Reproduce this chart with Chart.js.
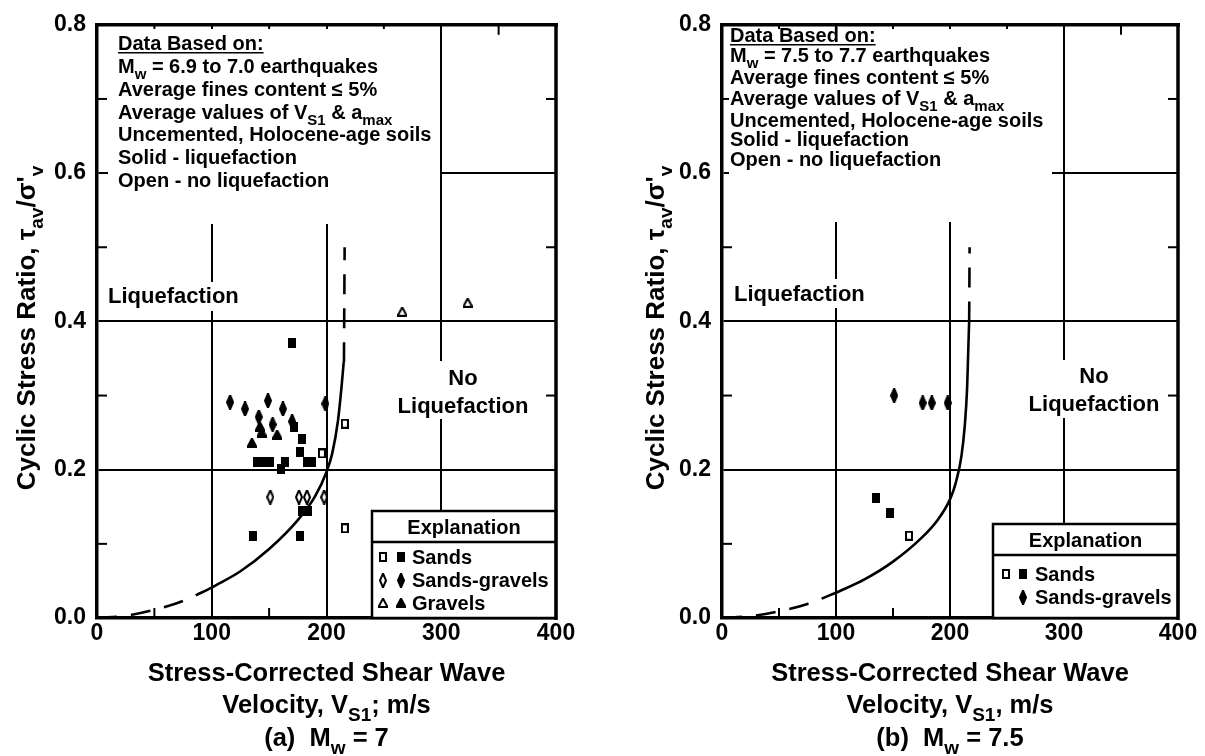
<!DOCTYPE html>
<html><head><meta charset="utf-8">
<script src="https://cdn.jsdelivr.net/npm/chart.js@4.4.0/dist/chart.umd.min.js"></script>
<style>
html,body{margin:0;padding:0;background:#fff;}
#wrap{position:relative;width:1205px;height:756px;overflow:hidden;background:#fff;}
canvas{position:absolute;top:0;}
#ca{left:0;} #cb{left:602px;}
</style></head><body>
<div id="wrap"><canvas id="ca" width="602" height="756"></canvas><canvas id="cb" width="603" height="756"></canvas></div>
<script>
// ---------- tick labels ----------
const xTickValues = [0, 100, 200, 300, 400];
const yTickValues = [0.0, 0.2, 0.4, 0.6, 0.8];
const xMinorTicks = [50, 150, 250, 350];
const yMinorTicks = [0.1, 0.3, 0.5, 0.7];

// ---------- panel (a) Mw = 7 ----------
const aSandsLiqX = [170, 179, 176.5, 139, 146, 151, 160, 164, 183, 187, 179, 184, 136, 177, 172];
const aSandsLiqY = [0.371, 0.242, 0.224, 0.211, 0.210, 0.210, 0.201, 0.210, 0.210, 0.210, 0.144, 0.144, 0.111, 0.111, 0.258];
const aSandsNoLiqX = [196, 216, 216];
const aSandsNoLiqY = [0.222, 0.262, 0.121];
const aSGLiqX = [116, 129, 149, 162, 199, 141, 153, 170];
const aSGLiqY = [0.291, 0.282, 0.293, 0.282, 0.289, 0.271, 0.261, 0.265];
const aSGNoLiqX = [151, 176, 183, 198];
const aSGNoLiqY = [0.163, 0.163, 0.163, 0.163];
const aGravLiqX = [142, 143.5, 135, 157];
const aGravLiqY = [0.258, 0.250, 0.236, 0.247];
const aGravNoLiqX = [266, 323];
const aGravNoLiqY = [0.413, 0.425];
const aCurveLowX = [0, 25, 50, 75, 100];
const aCurveLowY = [0, 0.003, 0.011, 0.023, 0.041];
const aCurveX = [100, 125, 150, 175, 190, 200, 205, 210, 213, 215];
const aCurveY = [0.041, 0.063, 0.093, 0.132, 0.164, 0.197, 0.222, 0.266, 0.310, 0.345];
const aCurveTopX = [215.2, 215.8];
const aCurveTopY = [0.345, 0.500];

// ---------- panel (b) Mw = 7.5 ----------
const bSandsLiqX = [135, 147];
const bSandsLiqY = [0.162, 0.141];
const bSandsNoLiqX = [164];
const bSandsNoLiqY = [0.111];
const bSGLiqX = [151, 176, 184, 198];
const bSGLiqY = [0.300, 0.290, 0.290, 0.290];
const bCurveLowX = [0, 25, 50, 75, 100];
const bCurveLowY = [0, 0.0025, 0.009, 0.019, 0.034];
const bCurveX = [100, 125, 150, 175, 190, 200, 205, 210, 213, 215, 216, 216.8];
const bCurveY = [0.034, 0.052, 0.076, 0.108, 0.134, 0.160, 0.182, 0.218, 0.260, 0.310, 0.360, 0.400];
const bCurveTopX = [216.8, 217.2];
const bCurveTopY = [0.400, 0.500];

// ---------- texts ----------
const aBoxLines = [
  [["Data Based on:"]],
  [["M"],["w",1],[" = 6.9 to 7.0 earthquakes"]],
  [["Average fines content \u2264 5%"]],
  [["Average values of V"],["S1",1],[" & a"],["max",1]],
  [["Uncemented, Holocene-age soils"]],
  [["Solid - liquefaction"]],
  [["Open - no liquefaction"]]
];
const bBoxLines = [
  [["Data Based on:"]],
  [["M"],["w",1],[" = 7.5 to 7.7 earthquakes"]],
  [["Average fines content \u2264 5%"]],
  [["Average values of V"],["S1",1],[" & a"],["max",1]],
  [["Uncemented, Holocene-age soils"]],
  [["Solid - liquefaction"]],
  [["Open - no liquefaction"]]
];
const aXTitle = [[["Stress-Corrected Shear Wave"]], [["Velocity, V"],["S1",1],["; m/s"]], [["(a)  M"],["w",1],[" = 7"]]];
const bXTitle = [[["Stress-Corrected Shear Wave"]], [["Velocity, V"],["S1",1],[", m/s"]], [["(b)  M"],["w",1],[" = 7.5"]]];
const yTitle = [["Cyclic Stress Ratio, \u03C4"],["av",1],["/\u03C3'"],["v",1]];
const aLegend = [["square","Sands"],["diamond","Sands-gravels"],["triangle","Gravels"]];
const bLegend = [["square","Sands"],["diamondOnly","Sands-gravels"]];

const FONT = '"Liberation Sans", Arial, Helvetica, sans-serif';

function zip(xs, ys){ return xs.map((x,i)=>({x:x, y:ys[i]})); }

const markerDims = {square:[8,10], diamond:[8,15], triangle:[10,10]};
function markerCanvas(shape, filled){
  const d = markerDims[shape], w = d[0], h = d[1];
  const c = document.createElement('canvas'); c.width = w; c.height = h;
  const g = c.getContext('2d');
  g.fillStyle = '#000'; g.strokeStyle = '#000'; g.lineWidth = 2; g.lineJoin='miter';
  g.beginPath();
  if (shape === 'square') g.rect(1, 1, w-2, h-2);
  else if (shape === 'diamond') { g.moveTo(w/2, 0.5); g.lineTo(w-1, h/2); g.lineTo(w/2, h-0.5); g.lineTo(1, h/2); g.closePath(); }
  else { g.moveTo(w/2, 0.5); g.lineTo(w-0.5, h-1); g.lineTo(0.5, h-1); g.closePath(); }
  if (filled) g.fill();
  g.stroke();
  return c;
}
const MK = {};
['square','diamond','triangle'].forEach(s=>{ MK[s+'1']=markerCanvas(s,true); MK[s+'0']=markerCanvas(s,false); });

function drawRich(g, segs, x, yc, size, align){
  const sub = Math.round(size*0.74);
  let w = 0;
  segs.forEach(s=>{ g.font = 'bold '+(s[1]?sub:size)+'px '+FONT; w += g.measureText(s[0]).width; });
  let cx = align==='center' ? x - w/2 : (align==='right' ? x - w : x);
  const base = yc + size*0.36;
  g.textAlign = 'left'; g.textBaseline = 'alphabetic'; g.fillStyle = '#000';
  segs.forEach(s=>{
    g.font = 'bold '+(s[1]?sub:size)+'px '+FONT;
    g.fillText(s[0], cx, base + (s[1]? size*0.30 : 0));
    cx += g.measureText(s[0]).width;
  });
  return {x0: align==='center' ? x - w/2 : x, w: w, base: base};
}

function line(g, x1, y1, x2, y2, w){ g.beginPath(); g.lineWidth = w; g.strokeStyle='#000'; g.moveTo(x1,y1); g.lineTo(x2,y2); g.stroke(); }

function decoPlugin(P){
  return {
    id: 'deco',
    beforeDatasetsDraw(chart){
      const g = chart.ctx, A = chart.chartArea, xs = chart.scales.x, ys = chart.scales.y;
      g.save();
      xMinorTicks.forEach(v=>{ const p = xs.getPixelForValue(v); line(g,p,A.top,p,A.top+10,2); line(g,p,A.bottom,p,A.bottom-10,2); });
      yMinorTicks.forEach(v=>{ const p = ys.getPixelForValue(v); line(g,A.left,p,A.left+10,p,2); line(g,A.right,p,A.right-10,p,2); });
      g.fillStyle = '#fff';
      const bx = P.box; g.fillRect(bx[0], bx[1], bx[2]-bx[0], bx[3]-bx[1]);
      const lq = P.liqBg; g.fillRect(lq[0], lq[1], lq[2]-lq[0], lq[3]-lq[1]);
      const nl = P.noLiqBg; g.fillRect(nl[0], nl[1], nl[2]-nl[0], nl[3]-nl[1]);
      const ex = P.expl; g.fillRect(ex[0], ex[1], A.right-ex[0], A.bottom-ex[1]);
      line(g, A.left-2, A.top, A.right+2, A.top, 3.5);
      line(g, A.right, A.top, A.right, A.bottom+2, 3.5);
      P.boxLines.forEach((segs,i)=>{
        const r = drawRich(g, segs, P.boxTextX, P.boxLineY[i], P.boxFont, 'left');
        if (i===0) line(g, r.x0, r.base+2.5, r.x0+r.w, r.base+2.5, 1.6);
      });
      drawRich(g, [["Liquefaction"]], P.liqX, P.liqY, 22, 'left');
      drawRich(g, [["No"]], P.noLiqX, P.noLiqY[0], 22, 'center');
      drawRich(g, [["Liquefaction"]], P.noLiqX, P.noLiqY[1], 22, 'center');
      g.strokeStyle = '#000'; g.lineWidth = 2.5;
      g.strokeRect(ex[0], ex[1], A.right-ex[0], A.bottom-ex[1]);
      line(g, ex[0], P.explSep, A.right, P.explSep, 2.5);
      drawRich(g, [["Explanation"]], (ex[0]+A.right)/2, P.explHeadY, 20, 'center');
      P.legend.forEach((it,i)=>{
        const y = P.explRowY[i];
        const shape = it[0]==='diamondOnly' ? 'diamond' : it[0];
        const o = MK[shape+'0'], f = MK[shape+'1'];
        if (it[0] !== 'diamondOnly') g.drawImage(o, Math.round(P.explOpenX - o.width/2), Math.round(y - o.height/2));
        g.drawImage(f, Math.round(P.explFillX - f.width/2), Math.round(y - f.height/2));
        drawRich(g, [[it[1]]], P.explTextX, y, 20, 'left');
      });
      g.restore();
    },
    afterDraw(chart){
      const g = chart.ctx, A = chart.chartArea;
      g.save();
      const cx = (A.left + A.right)/2;
      P.xTitle.forEach((segs,i)=> drawRich(g, segs, cx, P.xTitleY[i], 25.5, 'center'));
      g.translate(P.yTitleX, P.yTitleY); g.rotate(-Math.PI/2);
      drawRich(g, yTitle, 0, 0, 26, 'center');
      g.restore();
    }
  };
}

function curveDS(xs, ys, dashed){
  return {type:'line', data: zip(xs, ys), borderColor:'#000', borderWidth: 2.6, pointRadius: 0,
    borderDash: dashed ? [20, 14] : [], cubicInterpolationMode: 'monotone', fill: false, order: 1};
}
function ptsDS(xs, ys, shape, filled){
  return {type:'scatter', data: zip(xs, ys), pointStyle: MK[shape+(filled?'1':'0')], pointRadius: 6,
    borderColor:'#000', backgroundColor:'#000', showLine:false, order: 0};
}

function build(id, P){
  new Chart(document.getElementById(id), {
    type: 'scatter',
    data: { datasets: P.datasets },
    options: {
      responsive: false, animation: false, devicePixelRatio: 1,
      layout: { padding: { top: P.top, right: P.padRight, left: 0, bottom: 0 } },
      plugins: { legend: { display: false }, tooltip: { enabled: false } },
      scales: {
        x: {
          type: 'linear', min: 0, max: 400,
          afterBuildTicks: s => { s.ticks = xTickValues.map(v => ({ value: v })); },
          afterFit: s => { s.height = 756 - P.bottom; },
          ticks: { color: '#000', font: { family: FONT, size: 23, weight: 'bold' }, padding: 2, maxRotation: 0, autoSkip: false, callback: v => String(v) },
          grid: { color: '#000', lineWidth: c => (c.tick && (c.tick.value === 0 || c.tick.value === 400)) ? 0 : 2, drawTicks: false },
          border: { display: true, color: '#000', width: 3.5 }
        },
        y: {
          type: 'linear', min: 0, max: 0.8,
          afterBuildTicks: s => { s.ticks = yTickValues.map(v => ({ value: v })); },
          afterFit: s => { s.width = P.left; },
          ticks: { color: '#000', font: { family: FONT, size: 23, weight: 'bold' }, padding: 11, autoSkip: false, callback: v => Number(v).toFixed(1) },
          grid: { color: '#000', lineWidth: c => (c.tick && (Math.abs(c.tick.value) < 1e-9 || Math.abs(c.tick.value - 0.8) < 1e-9)) ? 0 : 2, drawTicks: false },
          border: { display: true, color: '#000', width: 3.5 }
        }
      }
    },
    plugins: [decoPlugin(P)]
  });
}

build('ca', {
  top: 17, bottom: 618, left: 97, padRight: 602 - 556,
  datasets: [
    curveDS(aCurveLowX, aCurveLowY, true), curveDS(aCurveX, aCurveY, false), curveDS(aCurveTopX, aCurveTopY, true),
    ptsDS(aSandsLiqX, aSandsLiqY, 'square', true), ptsDS(aSandsNoLiqX, aSandsNoLiqY, 'square', false),
    ptsDS(aSGLiqX, aSGLiqY, 'diamond', true), ptsDS(aSGNoLiqX, aSGNoLiqY, 'diamond', false),
    ptsDS(aGravLiqX, aGravLiqY, 'triangle', true), ptsDS(aGravNoLiqX, aGravNoLiqY, 'triangle', false)
  ],
  box: [108, 29, 440, 224], boxLines: aBoxLines, boxTextX: 118, boxLineY: [43, 66, 89, 112, 134, 157, 180], boxFont: 20,
  liqBg: [104, 282, 246, 311], liqX: 108, liqY: 295,
  noLiqBg: [396, 361, 532, 419], noLiqX: 463, noLiqY: [377, 405],
  expl: [372, 511], explSep: 542, explHeadY: 527, explRowY: [557, 580, 603],
  explOpenX: 383, explFillX: 401, explTextX: 412, legend: aLegend,
  xTitle: aXTitle, xTitleY: [672, 704, 737], yTitleX: 26, yTitleY: 328
});

build('cb', {
  top: 17, bottom: 618, left: 120, padRight: 603 - 576,
  datasets: [
    curveDS(bCurveLowX, bCurveLowY, true), curveDS(bCurveX, bCurveY, false), curveDS(bCurveTopX, bCurveTopY, true),
    ptsDS(bSandsLiqX, bSandsLiqY, 'square', true), ptsDS(bSandsNoLiqX, bSandsNoLiqY, 'square', false),
    ptsDS(bSGLiqX, bSGLiqY, 'diamond', true)
  ],
  box: [127, 29, 450, 222], boxLines: bBoxLines, boxTextX: 128, boxLineY: [35, 55, 77, 98, 120, 139, 159], boxFont: 20,
  liqBg: [128, 279, 270, 308], liqX: 132, liqY: 293,
  noLiqBg: [423, 360, 561, 418], noLiqX: 492, noLiqY: [375, 403],
  expl: [391, 524], explSep: 555, explHeadY: 540, explRowY: [574, 597],
  explOpenX: 404, explFillX: 421, explTextX: 433, legend: bLegend,
  xTitle: bXTitle, xTitleY: [672, 704, 737], yTitleX: 53, yTitleY: 328
});
</script>
</body></html>
